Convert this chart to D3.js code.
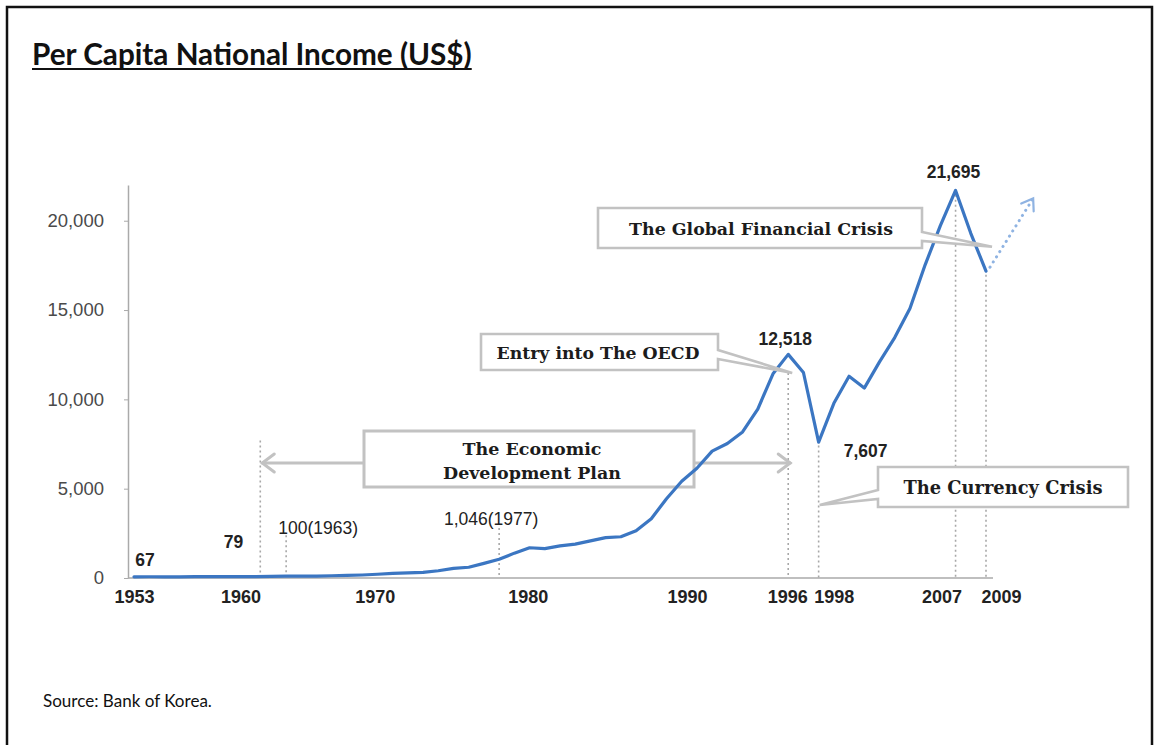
<!DOCTYPE html>
<html>
<head>
<meta charset="utf-8">
<script src="https://cdn.jsdelivr.net/npm/d3@7"></script>
<style>
  body { margin: 0; background: #fff; }
  svg { display: block; }
</style>
</head>
<body>
<svg id="chart" width="1158" height="745"></svg>
<script>
// Per capita national income, Korea, 1953-2009 (US$)
const years = d3.range(1953, 2010);
const income = [
  67, 70, 65, 66, 74, 80, 81, 79,                               // 1953-1960
  82, 87, 100, 103, 105, 125, 142, 169, 210, 254,               // 1961-1970
  290, 320, 405, 541, 602, 817, 1046, 1392, 1693, 1645,         // 1971-1980
  1800, 1893, 2076, 2257, 2309, 2643, 3321, 4435, 5418, 6147,   // 1981-1990
  7105, 7527, 8177, 9459, 11432, 12518, 11505, 7607, 9778, 11292, // 1991-2000
  10631, 12100, 13460, 15082, 17531, 19722, 21695, 19296, 17175 // 2001-2009
];
const yTicks = [0, 5000, 10000, 15000, 20000];
const xTickYears = [1953, 1960, 1970, 1980, 1990, 1996, 1998, 2007, 2009];

// value labels: plain values, and values tagged with their year
const plainLabelYears = [1953, 1960, 1996, 1998, 2007];
const taggedLabelYears = [1963, 1977];

// dotted guide lines: year and the income level where each guide stops
const guideYears = [1961.3, 1963, 1977, 1996, 1998, 2007, 2009];
const guideTops  = [7700, 2400, 2800, 11480, 7700, 21450, 17250];

// economic development plan span
const planSpan = [1961.3, 1996];
// continuation of the trend after 2009
const trendFrom = [2009, 17175];
const trendTo = [2012.1, 21250];

const valueOf = yr => income[years.indexOf(yr)];
const fmt = d3.format(",");

const svg = d3.select("#chart");

// page frame
svg.append("path")
  .attr("d", "M7,760 V7 H1152 V760")
  .attr("fill", "none").attr("stroke", "#111").attr("stroke-width", 2.5);

// helper: fit a text element to a target width by scaling its font size
function fitWidth(sel, target) {
  const n = sel.node();
  const fs = parseFloat(sel.attr("font-size"));
  const w = n.getComputedTextLength();
  sel.attr("font-size", (fs * target / w).toFixed(2));
  return n.getComputedTextLength();
}

// title
const title = svg.append("text")
  .attr("x", 32).attr("y", 65)
  .attr("font-family", "Lato, 'Open Sans', sans-serif")
  .attr("font-weight", 700).attr("font-size", 24).attr("fill", "#111")
  .text("Per Capita National Income (US$)");
const tw = fitWidth(title, 440);
svg.append("line")
  .attr("x1", 32).attr("x2", 32 + tw).attr("y1", 69).attr("y2", 69)
  .attr("stroke", "#111").attr("stroke-width", 2.2);

// source note
const src = svg.append("text")
  .attr("x", 43).attr("y", 707)
  .attr("font-family", "Lato, 'Open Sans', sans-serif")
  .attr("font-size", 16).attr("fill", "#111")
  .text("Source: Bank of Korea.");
fitWidth(src, 169);

// scales
const x = d3.scaleLinear().domain([1953, 2009]).range([134, 986]);
const y = d3.scaleLinear().domain([0, 22000]).range([578, 185]);

const axisFont = "'Liberation Sans', Arial, sans-serif";

// y axis
const gy = svg.append("g").attr("transform", "translate(128,0)")
  .call(d3.axisLeft(y).tickValues(yTicks).tickFormat(fmt)
    .tickSize(4).tickSizeOuter(0).tickPadding(20));
gy.select(".domain").attr("stroke", "#aaa").attr("stroke-width", 1.5);
gy.selectAll(".tick line").attr("stroke", "#aaa");
gy.selectAll(".tick text")
  .attr("font-family", axisFont).attr("font-size", 18.5).attr("fill", "#4a4a4a");

// x axis (baseline + bold year labels)
svg.append("line")
  .attr("x1", 128).attr("x2", 993).attr("y1", y(0)).attr("y2", y(0))
  .attr("stroke", "#aaa").attr("stroke-width", 1.5);
const labelShift = { 1970: -18, 1980: -17, 1990: -10, 1996: -1, 1998: 15, 2007: -14, 2009: 15 };
const gx = svg.append("g").attr("transform", `translate(0,${y(0)})`)
  .call(d3.axisBottom(x).tickValues(xTickYears).tickFormat(d3.format("d"))
    .tickSize(0).tickPadding(12));
gx.select(".domain").remove();
gx.selectAll(".tick text")
  .attr("font-family", axisFont).attr("font-size", 18).attr("font-weight", 700)
  .attr("fill", "#222")
  .attr("dx", d => labelShift[d] || 0);

// dotted guide lines
svg.append("g").selectAll("line")
  .data(guideYears.map((yr, i) => ({ yr, top: guideTops[i] })))
  .join("line")
  .attr("x1", d => x(d.yr)).attr("x2", d => x(d.yr))
  .attr("y1", d => y(d.top)).attr("y2", y(0))
  .attr("stroke", "#a8a8a8").attr("stroke-width", 1.6)
  .attr("stroke-dasharray", "2,3");

// economic development plan: double-headed arrow
const planY = 463;
const grey = "#c2c2c2";
const pa = svg.append("g").attr("stroke", grey).attr("stroke-width", 3)
  .attr("fill", "none").attr("stroke-linecap", "round");
const px0 = x(planSpan[0]) + 2, px1 = x(planSpan[1]) + 2;
pa.append("line").attr("x1", px0).attr("x2", px1).attr("y1", planY).attr("y2", planY);
pa.append("path").attr("d", `M${px0 + 12},${planY - 9} L${px0},${planY} L${px0 + 12},${planY + 9}`);
pa.append("path").attr("d", `M${px1 - 12},${planY - 9} L${px1},${planY} L${px1 - 12},${planY + 9}`);

const serif = "'DejaVu Serif', 'Liberation Serif', serif";
function boxText(txt, cx, by, width) {
  const t = svg.append("text")
    .attr("x", cx).attr("y", by).attr("text-anchor", "middle")
    .attr("font-family", serif).attr("font-weight", 700)
    .attr("font-size", 16).attr("fill", "#1c1c1c")
    .text(txt);
  fitWidth(t, width);
  return t;
}

// economic plan box
svg.append("rect")
  .attr("x", 364).attr("y", 431).attr("width", 330).attr("height", 56)
  .attr("fill", "#fff").attr("stroke", grey).attr("stroke-width", 3);
boxText("The Economic", 532, 455, 139);
boxText("Development Plan", 532, 479, 178);

// income line
const line = d3.line().x((d, i) => x(years[i])).y(d => y(d));
svg.append("path")
  .datum(income)
  .attr("d", line)
  .attr("fill", "none").attr("stroke", "#3b76c2").attr("stroke-width", 3.2)
  .attr("stroke-linejoin", "round").attr("stroke-linecap", "round");

// dotted trend arrow after 2009
const tx0 = x(trendFrom[0]) + 4, ty0 = y(trendFrom[1]) - 4;
const tx1 = x(trendTo[0]), ty1 = y(trendTo[1]);
const ta = svg.append("g").attr("stroke", "#8fb3e2").attr("fill", "none")
  .attr("stroke-width", 3).attr("stroke-linecap", "round");
ta.append("line").attr("x1", tx0).attr("y1", ty0).attr("x2", tx1).attr("y2", ty1)
  .attr("stroke-dasharray", "0.1,6");
{
  const ang = Math.atan2(ty1 - ty0, tx1 - tx0);
  const L = 13, spread = 0.6;
  const a1 = ang + Math.PI - spread, a2 = ang + Math.PI + spread;
  ta.append("path")
    .attr("stroke-width", 2.2)
    .attr("d", `M${tx1 + L * Math.cos(a1)},${ty1 + L * Math.sin(a1)} L${tx1},${ty1} L${tx1 + L * Math.cos(a2)},${ty1 + L * Math.sin(a2)}`);
}

// callout boxes with pointer tails
function callout(bx, by, bw, bh, side, t0, t1, tip) {
  // side: 'right' or 'left' edge carries the tail between offsets t0..t1 from top
  let d;
  if (side === "right") {
    d = `M${bx},${by} H${bx + bw} V${by + t0} L${tip[0]},${tip[1]} L${bx + bw},${by + t1} V${by + bh} H${bx} Z`;
  } else {
    d = `M${bx},${by} H${bx + bw} V${by + bh} H${bx} V${by + t1} L${tip[0]},${tip[1]} L${bx},${by + t0} Z`;
  }
  svg.append("path").attr("d", d)
    .attr("fill", "#fff").attr("stroke", grey).attr("stroke-width", 2.6)
    .attr("stroke-linejoin", "miter");
}

callout(481, 334, 237, 36, "right", 16, 25, [x(1996) + 4, y(11480)]);
boxText("Entry into The OECD", 598, 359, 203);

callout(598, 208, 324, 40, "right", 24, 33, [x(2009) + 6, y(18540)]);
boxText("The Global Financial Crisis", 761, 235, 264);

callout(878, 467, 250, 40, "left", 23, 32, [x(1998) + 1, y(4090)]);
boxText("The Currency Crisis", 1003, 494, 199);

// value labels
const lab = svg.append("g").attr("font-family", axisFont).attr("fill", "#222");
const plainPos = { 1953: [11, 566], 1960: [-7, 548], 1996: [-3, 345], 1998: [47, 457], 2007: [-2, 178] };
plainLabelYears.forEach(yr => {
  lab.append("text")
    .attr("x", x(yr) + plainPos[yr][0]).attr("y", plainPos[yr][1])
    .attr("text-anchor", "middle")
    .attr("font-size", 17.5).attr("font-weight", 700)
    .text(fmt(valueOf(yr)));
});
const taggedPos = { 1963: [32, 534], 1977: [-8, 525] };
taggedLabelYears.forEach(yr => {
  lab.append("text")
    .attr("x", x(yr) + taggedPos[yr][0]).attr("y", taggedPos[yr][1])
    .attr("text-anchor", "middle")
    .attr("font-size", 17.5)
    .text(`${fmt(valueOf(yr))}(${yr})`);
});
</script>
</body>
</html>
